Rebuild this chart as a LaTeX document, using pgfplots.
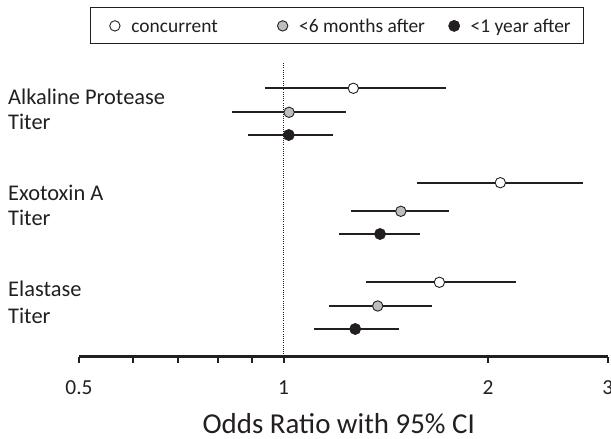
\documentclass[border=0pt]{standalone}
\usepackage{fontspec}
\setmainfont{Carlito}
\usepackage{pgfplots}
\pgfplotsset{compat=1.18}
\definecolor{ink}{HTML}{231F20}
\definecolor{midgray}{HTML}{BCBEC0}
\begin{document}
\begin{tikzpicture}
\begin{axis}[
  at={(79bp,82.5bp)}, anchor=south west,
  scale only axis, width=528.7bp, height=293.8bp,
  xmode=log, xmin=0.5, xmax=3, ymin=82.5, ymax=376.3,
  clip=false,
  axis x line=bottom, axis y line=none,
  x axis line style={-, line width=2bp, draw=ink},
  xtick={0.5,1,2,3}, xticklabels={0.5,1,2,3},
  minor xtick={0.6,0.7,0.8,0.9},
  tick align=outside, major tick length=6bp, minor tick length=6bp,
  every tick/.style={line width=2bp, draw=ink},
  /pgf/number format/assume math mode=true,
  xticklabel style={font=\fontsize{21.5}{25}\selectfont, text=ink, anchor=base, yshift=-32bp},
  xlabel={Odds Ratio with 95\% CI},
  xlabel style={font=\fontsize{29}{33}\selectfont, text=ink, anchor=base, at={(axis description cs:0.5,0)}, yshift=-76.5bp, xshift=-4.6bp},
  legend columns=3, legend cell align=left,
  legend image code/.code={\draw[#1] plot coordinates {(0bp,0bp)}; \path[draw=none, fill=none] (-13.3bp,-5bp) rectangle (16.5bp,5bp);},
  legend style={at={(0.0208,1.1886)}, anchor=north west, draw=ink, line width=1.2bp,
    inner xsep=11bp, inner ysep=9bp, column sep=0pt,
    /tikz/every even column/.style={column sep=0pt},
    /tikz/every odd column/.style={column sep=0pt},
    nodes={inner sep=0pt, text height=15.4bp, text depth=2.6bp, font=\fontsize{19.5}{22}\selectfont, text=ink}},
]
% dotted reference line at OR = 1
\addplot[forget plot, ink, line width=0.9bp, dash pattern=on 0.9bp off 1.3bp] coordinates {(1,82.5) (1,376.3)};
% confidence intervals
\addplot[forget plot, ink, line width=2.2bp] coordinates {(0.939,350.7) (1.733,350.7)};
\addplot[forget plot, ink, line width=2.2bp] coordinates {(0.841,326.7) (1.236,326.7)};
\addplot[forget plot, ink, line width=2.2bp] coordinates {(0.886,304) (1.181,304)};
\addplot[forget plot, ink, line width=2.2bp] coordinates {(1.571,256.3) (2.763,256.3)};
\addplot[forget plot, ink, line width=2.2bp] coordinates {(1.256,227.7) (1.752,227.7)};
\addplot[forget plot, ink, line width=2.2bp] coordinates {(1.207,205) (1.590,205)};
\addplot[forget plot, ink, line width=2.2bp] coordinates {(1.321,156.7) (2.197,156.7)};
\addplot[forget plot, ink, line width=2.2bp] coordinates {(1.166,133) (1.653,133)};
\addplot[forget plot, ink, line width=2.2bp] coordinates {(1.109,110) (1.481,110)};
% point estimates
\addplot[only marks, mark=*, mark size=5.2bp, mark options={fill=white, draw=ink, line width=0.9bp}]
  coordinates {(1.267,350.7) (2.085,256.3) (1.696,156.7)};
\addlegendentry{\makebox[138bp][l]{concurrent}}
\addplot[only marks, mark=*, mark size=5.2bp, mark options={fill=midgray, draw=ink, line width=0.9bp}]
  coordinates {(1.019,326.7) (1.488,227.7) (1.376,133)};
\addlegendentry{\makebox[141.7bp][l]{<6 months after}}
\addplot[only marks, mark=*, mark size=5.6bp, mark options={fill=ink, draw=ink, line width=0.6bp}]
  coordinates {(1.018,304) (1.387,205) (1.275,110)};
\addlegendentry{\makebox[101.7bp][l]{<1 year after}}
\end{axis}
\begin{scope}[every node/.style={anchor=base west, inner sep=0pt, text=ink, font=\fontsize{22.5}{27}\selectfont}]
\node at (8bp,334.7bp) {Alkaline Protease};
\node at (8bp,309.7bp) {Titer};
\node at (8bp,238.3bp) {Exotoxin A};
\node at (8bp,213bp) {Titer};
\node at (8bp,142.3bp) {Elastase};
\node at (8bp,115.7bp) {Titer};
\end{scope}
\pgfresetboundingbox
\path (0,0) rectangle (611bp,439bp);
\end{tikzpicture}
\end{document}
